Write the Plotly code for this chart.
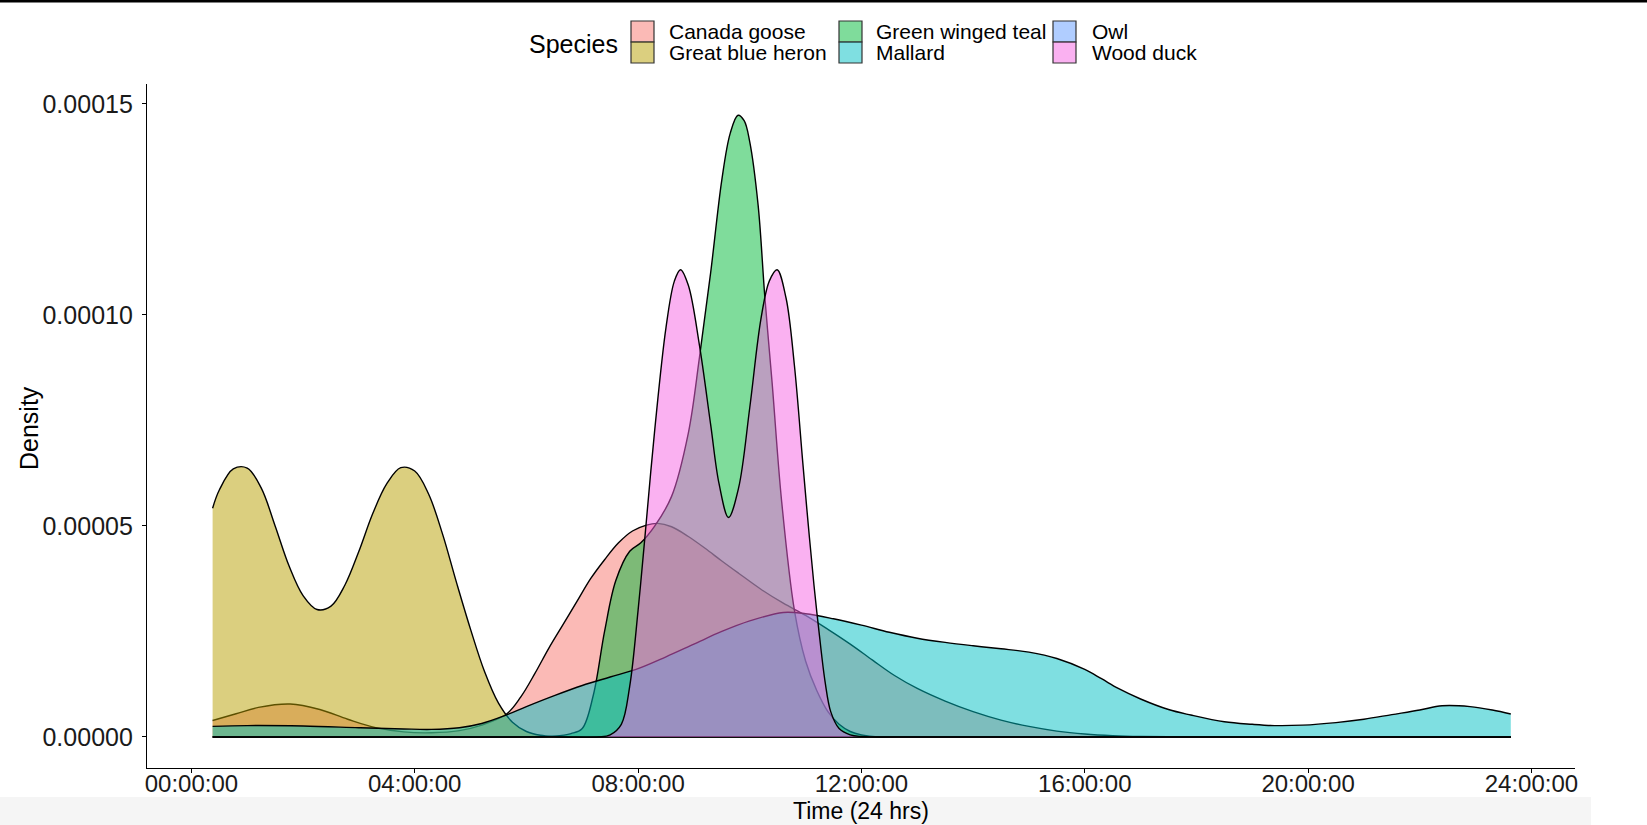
import plotly.graph_objects as go
import numpy as np

# ---------------- data (density values in units of 1e-5) ----------------
species = ["Canada goose", "Great blue heron", "Green winged teal", "Mallard", "Owl", "Wood duck"]
colors = ["#F8766D", "#B79F00", "#00BA38", "#00BFC4", "#619CFF", "#F564E3"]

canada_goose_hours = [0.38, 0.8, 1.2, 1.77, 2.3, 2.8, 3.3, 3.8, 4.3, 4.8, 5.2, 5.65, 5.9, 6.15, 6.4,
                      6.65, 6.9, 7.15, 7.4, 7.65, 7.9, 8.15, 8.35, 8.6, 8.9, 9.2, 9.5, 9.8, 10.2, 10.6,
                      11.0, 11.4, 11.8, 12.2, 12.6, 13.0, 13.5, 14.0, 14.5, 15.0, 15.5, 16.0, 16.5,
                      17.0, 18.0, 20.0, 23.63]
canada_goose_density = [0.39, 0.55, 0.7, 0.78, 0.65, 0.42, 0.22, 0.12, 0.1, 0.15, 0.28, 0.55, 0.95, 1.5,
                        2.1, 2.65, 3.2, 3.75, 4.2, 4.6, 4.88, 5.02, 5.06, 4.98, 4.75, 4.47, 4.17, 3.88,
                        3.5, 3.17, 2.88, 2.55, 2.2, 1.82, 1.45, 1.15, 0.85, 0.6, 0.4, 0.25, 0.14, 0.07,
                        0.03, 0.01, 0.0, 0.0, 0.0]

heron_hours = [0.38, 0.5, 0.75, 1.0, 1.25, 1.5, 1.75, 2.0, 2.25, 2.5, 2.75, 3.0, 3.25, 3.5, 3.75,
               4.0, 4.25, 4.5, 4.75, 5.0, 5.25, 5.5, 5.75, 6.0, 6.25, 6.5, 7.0, 23.63]
heron_density = [5.42, 5.85, 6.35, 6.37, 5.9, 5.0, 4.05, 3.35, 3.02, 3.1, 3.6, 4.4, 5.3, 6.0, 6.38,
                 6.3, 5.75, 4.8, 3.65, 2.55, 1.55, 0.8, 0.35, 0.13, 0.04, 0.01, 0.0, 0.0]

teal_hours = [0.38, 5.0, 6.5, 6.8, 7.0, 7.2, 7.4, 7.6, 7.85, 8.05, 8.3, 8.6, 8.9, 9.1, 9.3, 9.5, 9.65,
              9.79, 9.9, 10.0, 10.15, 10.27, 10.4, 10.57, 10.8, 11.0, 11.2, 11.4, 11.6, 11.8, 12.0,
              12.3, 13.0, 23.63]
teal_density = [0.0, 0.0, 0.02, 0.08, 0.2, 1.0, 2.5, 3.7, 4.4, 4.6, 5.0, 5.7, 7.2, 9.0, 11.0, 13.2, 14.3,
                14.73, 14.6, 14.1, 12.6, 10.43, 8.4, 5.6, 3.0, 1.8, 1.1, 0.6, 0.3, 0.13, 0.05,
                0.0, 0.0, 0.0]

mallard_hours = [0.38, 1.0, 2.0, 3.0, 3.8, 4.3, 4.8, 5.2, 5.6, 6.0, 6.5, 7.0, 7.5, 8.0, 8.5, 9.0, 9.5,
                 10.0, 10.6, 11.0, 11.5, 12.0, 12.5, 13.0, 13.5, 14.0, 14.5, 15.0, 15.5, 16.0, 16.3,
                 16.6, 17.0, 17.5, 17.9, 18.5, 19.0, 19.4, 19.9, 20.5, 21.0, 21.5, 22.0, 22.4, 22.9,
                 23.3, 23.63]
mallard_density = [0.25, 0.27, 0.26, 0.22, 0.19, 0.18, 0.22, 0.32, 0.5, 0.72, 0.98, 1.22, 1.42, 1.62,
                   1.9, 2.2, 2.5, 2.75, 2.95, 2.92, 2.8, 2.65, 2.48, 2.34, 2.24, 2.16, 2.09, 2.01, 1.86,
                   1.6, 1.38, 1.15, 0.9, 0.65, 0.52, 0.36, 0.3, 0.27, 0.28, 0.34, 0.42, 0.53, 0.64,
                   0.74, 0.72, 0.64, 0.545]

owl_hours = [0.38, 23.63]
owl_density = [0.0, 0.0]

wood_duck_hours = [0.38, 6.5, 7.3, 7.5, 7.7, 7.85, 8.0, 8.12, 8.3, 8.5, 8.65, 8.76, 8.9, 9.1, 9.3, 9.45,
                   9.62, 9.8, 10.0, 10.2, 10.35, 10.49, 10.65, 10.8, 10.95, 11.05, 11.15, 11.24, 11.35,
                   11.45, 11.6, 11.8, 12.0, 12.3, 23.63]
wood_duck_density = [0.0, 0.0, 0.0, 0.05, 0.3, 1.2, 3.0, 4.7, 7.3, 9.7, 10.8, 11.07, 10.7, 9.27, 7.4, 6.0,
                     5.2, 5.9, 7.8, 9.9, 10.8, 11.07, 10.4, 8.8, 6.5, 5.0, 3.6, 2.5, 1.3,
                     0.6, 0.2, 0.05, 0.01, 0.0, 0.0]

series_hours = [canada_goose_hours, heron_hours, teal_hours, mallard_hours, owl_hours, wood_duck_hours]
series_density = [canada_goose_density, heron_density, teal_density, mallard_density, owl_density,
                  wood_duck_density]

x_tick_vals = [0, 4, 8, 12, 16, 20, 24]
x_tick_text = ["00:00:00", "04:00:00", "08:00:00", "12:00:00", "16:00:00", "20:00:00", "24:00:00"]
y_tick_vals = [0.0, 0.00005, 0.00010, 0.00015]
y_tick_text = ["0.00000", "0.00005", "0.00010", "0.00015"]

# ---------------- figure ----------------
W, H = 1647, 825
L, R, T, B = 147, 72, 84, 57
PW, PH = W - L - R, H - T - B
FONT = "Liberation Sans, Arial, Helvetica, sans-serif"


def px_x(px):
    return (px - L) / PW


def px_y(py):
    return (H - B - py) / PH


def rgba(hex_color, a):
    h = hex_color.lstrip("#")
    r, g, b = int(h[0:2], 16), int(h[2:4], 16), int(h[4:6], 16)
    return f"rgba({r},{g},{b},{a})"


fig = go.Figure()
for name, col, hrs, dens in zip(species, colors, series_hours, series_density):
    fig.add_trace(go.Scatter(
        x=hrs, y=np.array(dens) * 1e-5, name=name, mode="lines",
        line=dict(color="black", width=1.4, shape="spline", smoothing=1.0),
        fill="tozeroy", fillcolor=rgba(col, 0.5), showlegend=False,
    ))

shapes = []
annotations = []

# top black bar and bottom light strip (page decoration)
shapes.append(dict(type="rect", xref="paper", yref="paper", x0=px_x(0), x1=px_x(W),
                   y0=px_y(2.5), y1=px_y(0), fillcolor="black", line=dict(width=0), layer="above"))
shapes.append(dict(type="rect", xref="paper", yref="paper", x0=px_x(0), x1=px_x(1591),
                   y0=px_y(825), y1=px_y(797), fillcolor="#F5F5F5", line=dict(width=0), layer="below"))

# manual legend (ggplot-style, column-wise)
annotations.append(dict(text="Species", xref="paper", yref="paper", x=px_x(527), y=px_y(44),
                        xanchor="left", yanchor="middle", showarrow=False,
                        font=dict(family=FONT, size=25, color="black")))
key_left = [631, 839, 1053]
text_left = [667, 874, 1090]
row_top = [21, 42]
for i, (name, col) in enumerate(zip(species, colors)):
    c, r = i // 2, i % 2
    shapes.append(dict(type="rect", xref="paper", yref="paper",
                       x0=px_x(key_left[c]), x1=px_x(key_left[c] + 23),
                       y0=px_y(row_top[r] + 21), y1=px_y(row_top[r]),
                       fillcolor=rgba(col, 0.5), line=dict(color="#333333", width=1.2)))
    annotations.append(dict(text=name, xref="paper", yref="paper", x=px_x(text_left[c]),
                            y=px_y(row_top[r] + 10.5), xanchor="left", yanchor="middle",
                            showarrow=False, font=dict(family=FONT, size=21, color="black")))

# axis titles
annotations.append(dict(text="Time (24 hrs)", xref="paper", yref="paper", x=0.5, y=px_y(810.5),
                        xanchor="center", yanchor="middle", showarrow=False,
                        font=dict(family=FONT, size=23, color="black")))
annotations.append(dict(text="Density", xref="paper", yref="paper", x=px_x(29), y=px_y(428),
                        xanchor="center", yanchor="middle", showarrow=False, textangle=-90,
                        font=dict(family=FONT, size=25, color="black")))

axis_common = dict(showline=True, linecolor="black", linewidth=1.3, ticks="outside", ticklen=4,
                   tickcolor="black", tickwidth=1.3, showgrid=False, zeroline=False)

fig.update_layout(
    width=W, height=H, autosize=False,
    margin=dict(l=L, r=R, t=T, b=B, pad=0),
    paper_bgcolor="white", plot_bgcolor="white",
    xaxis=dict(range=[-0.795, 24.78], tickmode="array", tickvals=x_tick_vals, ticktext=x_tick_text,
               ticklabelstandoff=-10, tickfont=dict(family=FONT, size=24, color="#1a1a1a"),
               **axis_common),
    yaxis=dict(range=[-7.35e-6, 1.547e-4], tickmode="array", tickvals=y_tick_vals, ticktext=y_tick_text,
               ticklabelstandoff=4, tickfont=dict(family=FONT, size=25, color="#1a1a1a"),
               **axis_common),
    shapes=shapes, annotations=annotations, showlegend=False,
)

fig.write_html("out.html")
